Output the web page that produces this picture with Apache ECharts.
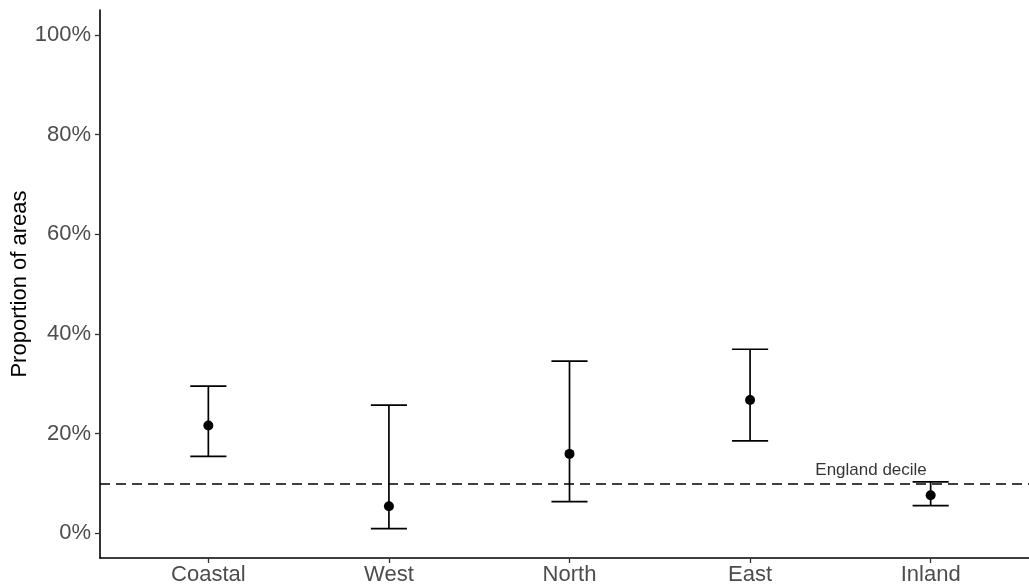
<!DOCTYPE html>
<html>
<head>
<meta charset="utf-8">
<script src="https://cdn.jsdelivr.net/npm/echarts@6/dist/echarts.min.js"></script>
<style>
html,body{margin:0;padding:0;background:#fff;}
#c{width:1029px;height:585px;}
</style>
</head>
<body>
<div id="c"></div>
<script>
const categories = ['Coastal', 'West', 'North', 'East', 'Inland'];
const pointValues = [21.6, 5.4, 15.9, 26.7, 7.6];
const lowerValues = [15.4, 0.9, 6.3, 18.5, 5.5];
const upperValues = [29.5, 25.7, 34.5, 36.9, 10.3];
const yTickValues = [0, 20, 40, 60, 80, 100];
const englandDecile = 10;
const referenceLabel = 'England decile';
const referenceLabelX = 4.67;

const FONT = "'Liberation Sans', Arial, sans-serif";
const chart = echarts.init(document.getElementById('c'), null, {renderer: 'canvas'});

const errData = categories.map((c, i) => [i + 1, lowerValues[i], upperValues[i]]);
const ptData = categories.map((c, i) => [i + 1, pointValues[i]]);

const option = {
  backgroundColor: '#ffffff',
  animation: false,
  grid: {left: 100, right: -10, top: 10, bottom: 27, containLabel: false, outerBoundsMode: 'none'},
  xAxis: {
    type: 'value', min: 0.4, max: 5.6,
    splitLine: {show: false},
    axisLine: {show: true, onZero: false, lineStyle: {color: '#000', width: 1.6}},
    axisTick: {show: true, customValues: [1, 2, 3, 4, 5], length: 5, lineStyle: {color: '#333', width: 1.3}},
    axisLabel: {
      customValues: [1, 2, 3, 4, 5],
      formatter: v => categories[Math.round(v) - 1] || '',
      color: '#4d4d4d', fontSize: 22, fontFamily: FONT, margin: 6
    }
  },
  yAxis: {
    type: 'value', min: -5, max: 105,
    name: 'Proportion of areas', nameLocation: 'middle', nameGap: 69,
    nameMoveOverlap: false,
    nameTextStyle: {color: '#000', fontSize: 22, fontFamily: FONT},
    splitLine: {show: false},
    axisLine: {show: true, onZero: false, lineStyle: {color: '#000', width: 1.6}},
    axisTick: {show: true, customValues: yTickValues, length: 5, lineStyle: {color: '#333', width: 1.3}},
    axisLabel: {
      customValues: yTickValues,
      formatter: v => v + '%',
      color: '#4d4d4d', fontSize: 22, fontFamily: FONT, margin: 9
    }
  },
  series: [
    {
      type: 'custom',
      data: errData,
      silent: true,
      renderItem: function (params, api) {
        const x = api.value(0), lo = api.value(1), hi = api.value(2);
        const pTop = api.coord([x, hi]);
        const pBot = api.coord([x, lo]);
        const tl = api.coord([x - 0.1, hi]), tr = api.coord([x + 0.1, hi]);
        const bl = api.coord([x - 0.1, lo]), br = api.coord([x + 0.1, lo]);
        const style = {stroke: '#000', lineWidth: 1.7};
        return {
          type: 'group',
          children: [
            {type: 'line', shape: {x1: pTop[0], y1: pTop[1], x2: pBot[0], y2: pBot[1]}, style},
            {type: 'line', shape: {x1: tl[0], y1: tl[1], x2: tr[0], y2: tr[1]}, style},
            {type: 'line', shape: {x1: bl[0], y1: bl[1], x2: br[0], y2: br[1]}, style}
          ]
        };
      },
      markLine: {
        silent: true,
        symbol: ['none', 'none'],
        label: {show: false},
        lineStyle: {color: '#000', type: [10, 6], width: 1.7},
        data: [{yAxis: englandDecile}]
      },
      z: 2
    },
    {
      type: 'scatter',
      data: ptData,
      symbol: 'circle',
      symbolSize: 10,
      itemStyle: {color: '#000', opacity: 1},
      silent: true,
      z: 3
    },
    {
      type: 'scatter',
      data: [[referenceLabelX, englandDecile]],
      symbolSize: 0,
      silent: true,
      label: {
        show: true, position: 'top', distance: 4,
        formatter: referenceLabel,
        color: '#000', fontSize: 17, fontFamily: FONT
      },
      z: 4
    }
  ]
};
chart.setOption(option);
</script>
</body>
</html>
